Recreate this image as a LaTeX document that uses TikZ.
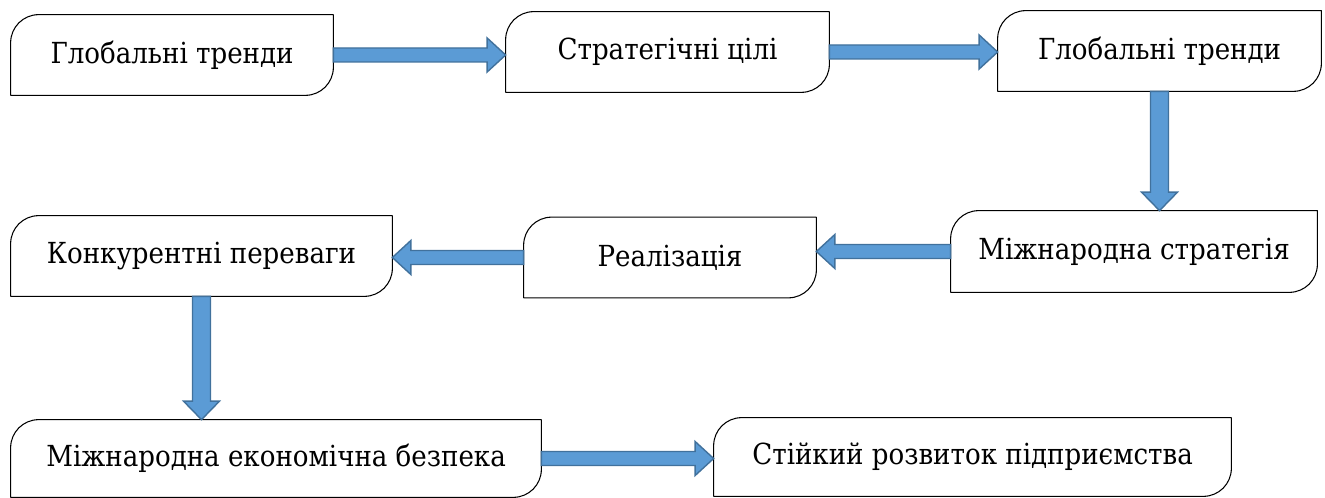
\documentclass[tikz,border=0pt]{standalone}
\usepackage{fontspec}
\setmainfont{DejaVu Serif Condensed}
\usepackage{tikz}
\usetikzlibrary{calc, positioning}
\definecolor{arrfill}{HTML}{5B9BD5}
\definecolor{arrline}{HTML}{41719C}
\newcommand{\crad}{0.56cm}
\tikzset{
  stage/.style={minimum width=#1, minimum height=1.6cm, inner sep=0pt, fill=white,
    font=\fontsize{16.5}{20}\selectfont},
  frame/.style={draw=black, line width=0.6pt, line join=round},
  barrow/.style 2 args={fill=arrfill, draw=arrline, line width=0.8pt, line join=miter,
    to path={($(\tikztostart)!#1!90:(\tikztotarget)$)
      -- ($(\tikztotarget)!0.37cm!(\tikztostart)!#1!-90:(\tikztostart)$)
      -- ($(\tikztotarget)!0.37cm!(\tikztostart)!#2!-90:(\tikztostart)$)
      -- (\tikztotarget)
      -- ($(\tikztotarget)!0.37cm!(\tikztostart)!#2!90:(\tikztostart)$)
      -- ($(\tikztotarget)!0.37cm!(\tikztostart)!#1!90:(\tikztostart)$)
      -- ($(\tikztostart)!#1!-90:(\tikztotarget)$) -- cycle}}
}

\begin{document}
\begin{tikzpicture}
  \useasboundingbox (0,0) rectangle (26.5,9.96);
  % first row
  \node[stage=6.44cm] (g1) at (3.44,8.86) {Глобальні тренди};
  \node[stage=6.46cm] (s2) at (13.35,8.92) {Стратегічні цілі};
  \node[stage=6.46cm] (g3) at (23.19,8.94) {Глобальні тренди};
  % second row
  \node[stage=7.32cm, minimum height=1.62cm] (m4) at (22.68,4.93) {Міжнародна стратегія};
  \node[stage=5.84cm] (r5) at (13.40,4.81) {Реалізація};
  \node[stage=7.62cm] (k6) at (4.03,4.84) {Конкурентні переваги};
  % third row
  \node[stage=10.6cm, minimum height=1.54cm] (m7) at (5.52,0.79) {Міжнародна економічна безпека};
  \node[stage=10.34cm, minimum height=1.56cm] (s8) at (19.45,0.82) {Стійкий розвиток підприємства};
  \foreach \n in {g1,s2,g3,m4,r5,k6,m7,s8}{
    \draw[frame] (\n.north east) -- ([yshift=\crad]\n.south east)
      arc[start angle=0, end angle=-90, radius=\crad] -- (\n.south west)
      -- ([yshift=-\crad]\n.north west)
      arc[start angle=180, end angle=90, radius=\crad] -- cycle;}
  % block arrows
  \draw[barrow={0.14cm}{0.34cm}] (g1.east) to (g1.east -| s2.west);
  \draw[barrow={0.14cm}{0.34cm}] (s2.east) to (s2.east -| g3.west);
  \draw[barrow={0.18cm}{0.36cm}] (g3.south) to (g3.south |- m4.north);
  \draw[barrow={0.14cm}{0.34cm}] (m4.west) to (m4.west -| r5.east);
  \draw[barrow={0.14cm}{0.34cm}] (r5.west) to (r5.west -| k6.east);
  \draw[barrow={0.18cm}{0.36cm}] (k6.south) to (k6.south |- m7.north);
  \draw[barrow={0.14cm}{0.34cm}] (m7.east) to (m7.east -| s8.west);
\end{tikzpicture}
\end{document}
